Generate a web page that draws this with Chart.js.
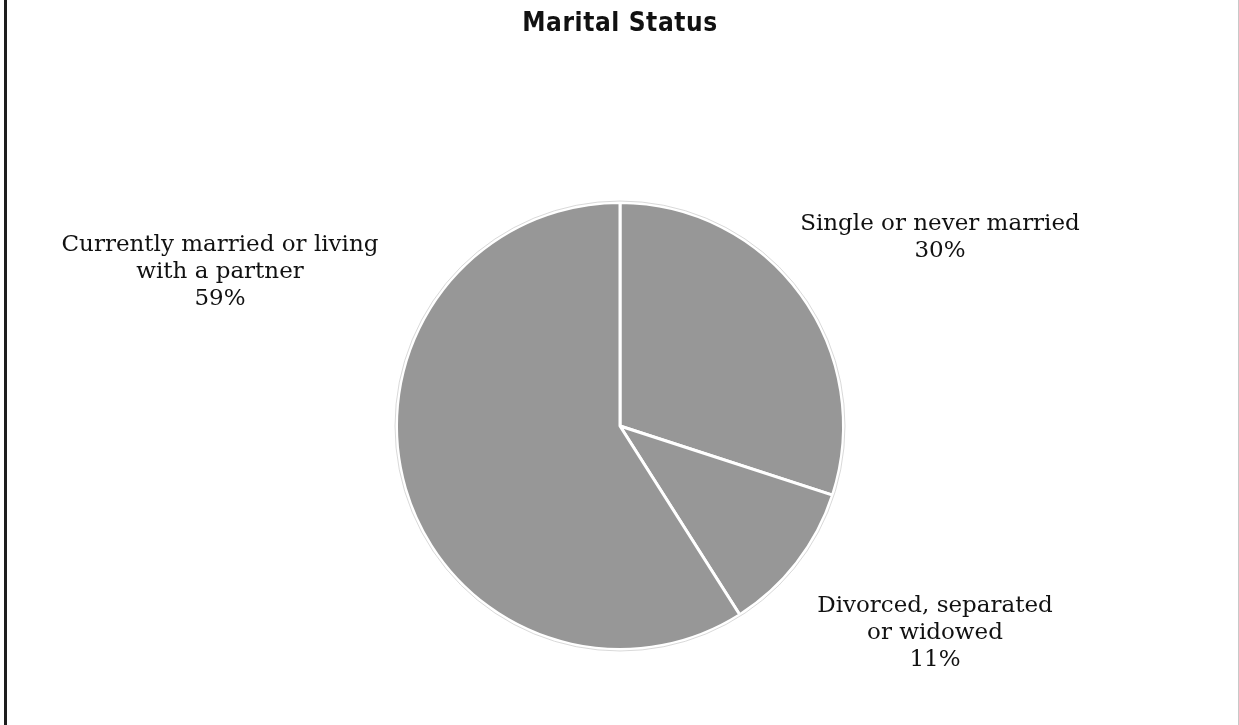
<!DOCTYPE html>
<html>
<head>
<meta charset="utf-8">
<script src="https://cdn.jsdelivr.net/npm/chart.js@4"></script>
<style>
  html, body { margin: 0; padding: 0; background: #fff; }
  #frame {
    position: absolute; left: 4px; top: 0;
    width: 1231px; height: 725px;
    border-left: 3px solid #1e1e1e;
    border-right: 1px solid #c8c8c8;
  }
  #myChart { display: block; }
</style>
</head>
<body>
<div id="frame"><canvas id="myChart" width="1231" height="725"></canvas></div>
<script>
const chartTitle = 'Marital Status';
const categories = ['Single or never married', 'Divorced, separated or widowed', 'Currently married or living with a partner'];
const shares = [30, 11, 59];
const labelLines = [
    ['Single or never married', '30%'],
    ['Divorced, separated', 'or widowed', '11%'],
    ['Currently married or living', 'with a partner', '59%']
];

// where each label block sits, relative to the pie centre
const labelOffsets = [[320, -188], [315, 207], [-400, -154]];

const sliceLabels = {
    id: 'sliceLabels',
    afterDatasetsDraw(chart) {
        const ctx = chart.ctx;
        const arcs = chart.getDatasetMeta(0).data;
        const cx = arcs[0].x, cy = arcs[0].y, r = arcs[0].outerRadius;

        // faint rim round the pie
        ctx.save();
        ctx.beginPath();
        ctx.arc(cx, cy, r + 1.5, 0, Math.PI * 2);
        ctx.strokeStyle = '#d9d9d9';
        ctx.lineWidth = 1;
        ctx.stroke();

        ctx.fillStyle = '#111';
        ctx.font = '23px "DejaVu Serif", serif';
        ctx.textAlign = 'center';
        ctx.textBaseline = 'middle';
        const lh = 27;
        labelLines.forEach((lines, i) => {
            const bx = cx + labelOffsets[i][0];
            const by = cy + labelOffsets[i][1] - (lines.length - 1) * lh / 2;
            lines.forEach((t, j) => ctx.fillText(t, bx, by + j * lh));
        });

        ctx.font = 'bold 26px "DejaVu Sans", sans-serif';
        ctx.fontStretch = 'condensed';
        ctx.letterSpacing = '0.6px';
        ctx.fillText(chartTitle, cx, 24);
        ctx.restore();
    }
};

function createChart() {
    const ctx = document.getElementById('myChart').getContext('2d');
    new Chart(ctx, {
        type: 'pie',
        data: {
            labels: categories,
            datasets: [{
                data: shares,
                backgroundColor: '#979797',
                borderColor: '#ffffff',
                borderWidth: 3
            }]
        },
        options: {
            responsive: false,
            animation: false,
            layout: { padding: { top: 201, bottom: 74, left: 0, right: 5 } },
            plugins: {
                legend: { display: false },
                tooltip: { enabled: false }
            }
        },
        plugins: [sliceLabels]
    });
}

document.addEventListener('DOMContentLoaded', createChart);
</script>
</body>
</html>
